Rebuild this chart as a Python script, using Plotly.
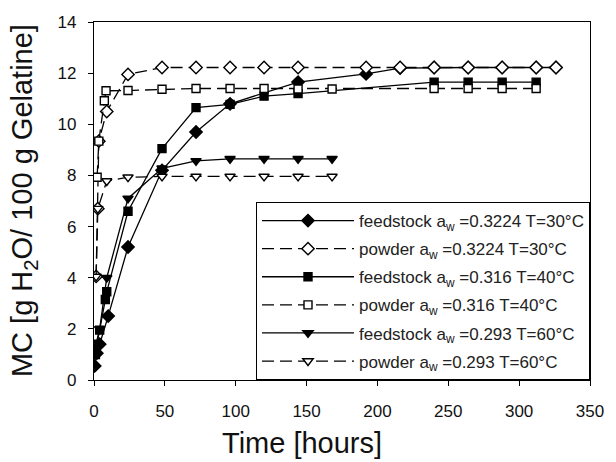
import plotly.graph_objects as go

# ---- data ----
fs30_t = [0.5, 2, 4, 10, 24, 48, 72, 96, 144, 192, 216, 240, 264, 288, 312, 326]
fs30_y = [0.55, 1.05, 1.4, 2.5, 5.2, 8.2, 9.7, 10.8, 11.65, 11.97, 12.2, 12.22, 12.22, 12.22, 12.22, 12.22]

pw30_t = [1.5, 2.7, 3.4, 9, 24, 48, 72, 96, 120, 144, 192, 216, 240, 264, 288, 312, 326]
pw30_y = [4.05, 6.7, 9.34, 10.5, 11.95, 12.22, 12.22, 12.22, 12.22, 12.22, 12.22, 12.22, 12.22, 12.22, 12.22, 12.22, 12.22]

fs40_t = [1, 2, 4, 8, 9, 24, 48, 72, 96, 120, 144, 240, 264, 288, 312]
fs40_y = [1.0, 1.4, 1.95, 3.15, 3.45, 6.6, 9.05, 10.65, 10.78, 11.1, 11.2, 11.65, 11.65, 11.65, 11.65]

pw40_t = [2.2, 3.4, 7.3, 8.5, 24, 48, 72, 96, 120, 144, 168, 240, 264, 288, 312]
pw40_y = [7.93, 9.34, 10.92, 11.31, 11.32, 11.37, 11.4, 11.4, 11.4, 11.38, 11.38, 11.4, 11.4, 11.4, 11.4]

fs60_t = [1, 4, 9, 24, 48, 72, 96, 120, 144, 168]
fs60_y = [1.3, 2.0, 4.0, 7.1, 8.28, 8.57, 8.65, 8.65, 8.65, 8.65]

pw60_t = [1.5, 2.7, 9, 24, 48, 72, 96, 120, 144, 168]
pw60_y = [4.05, 6.7, 7.78, 7.93, 7.96, 7.96, 7.96, 7.96, 7.96, 7.96]

names = [
    "feedstock a<sub>w</sub> =0.3224 T=30°C",
    "powder a<sub>w</sub> =0.3224 T=30°C",
    "feedstock a<sub>w</sub> =0.316 T=40°C",
    "powder a<sub>w</sub> =0.316 T=40°C",
    "feedstock a<sub>w</sub> =0.293 T=60°C",
    "powder a<sub>w</sub> =0.293 T=60°C",
]

x_title = "Time [hours]"
y_title = "MC [g H<sub>2</sub>O/ 100 g Gelatine]"

x_ticks = [0, 50, 100, 150, 200, 250, 300, 350]
y_ticks = [0, 2, 4, 6, 8, 10, 12, 14]

FONT = "Arial, Liberation Sans, sans-serif"

series = [
    (fs30_t, fs30_y, names[0], "diamond", 9.5, True),
    (pw30_t, pw30_y, names[1], "diamond", 9.5, False),
    (fs40_t, fs40_y, names[2], "square", 8, True),
    (pw40_t, pw40_y, names[3], "square", 8, False),
    (fs60_t, fs60_y, names[4], "triangle-down", 9, True),
    (pw60_t, pw60_y, names[5], "triangle-down", 9, False),
]

fig = go.Figure()
for i, (t, y, nm, sym, sz, filled) in enumerate(series):
    fig.add_trace(go.Scatter(
        x=t, y=y, name=nm, mode="lines+markers",
        legendgroup=str(i),
        line=dict(color="black", width=1.3, dash="solid" if filled else "12px,6px"),
        marker=dict(symbol=sym, size=sz,
                    color="black" if filled else "white",
                    line=dict(color="black", width=1.4)),
    ))

fig.add_annotation(text=x_title, xref="paper", yref="paper", x=0.42, y=-0.175,
                   xanchor="center", yanchor="middle", showarrow=False,
                   font=dict(size=29, family=FONT, color="#111"))
fig.add_annotation(text=y_title, xref="paper", yref="paper", x=-0.141, y=0.5,
                   xanchor="center", yanchor="middle", showarrow=False, textangle=-90,
                   font=dict(size=29, family=FONT, color="#111"))

fig.update_layout(
    width=616, height=462,
    margin=dict(l=94, r=18, t=22, b=82),
    paper_bgcolor="white", plot_bgcolor="white",
    font=dict(family=FONT, color="black"),
    showlegend=True,
    legend=dict(
        x=1, xanchor="right", y=0, yanchor="bottom",
        bordercolor="black", borderwidth=1, bgcolor="white",
        font=dict(size=17, family=FONT, color="#222"),
        itemwidth=92, tracegroupgap=3,
    ),
    xaxis=dict(
        range=[0, 350], tickvals=x_ticks, ticktext=[str(v) for v in x_ticks],
        showgrid=False, zeroline=False,
        showline=True, linecolor="black", linewidth=1.3, mirror=True,
        ticks="outside", ticklen=5, tickcolor="black",
        ticklabelstandoff=10,
        tickfont=dict(size=17, family=FONT, color="#111"),
    ),
    yaxis=dict(
        range=[0, 14], tickvals=y_ticks, ticktext=[str(v) for v in y_ticks],
        showgrid=False, zeroline=False,
        showline=True, linecolor="black", linewidth=1.3, mirror=True,
        ticks="outside", ticklen=5, tickcolor="black",
        ticklabelstandoff=8,
        tickfont=dict(size=17, family=FONT, color="#111"),
    ),
)

fig.write_html("out.html")
